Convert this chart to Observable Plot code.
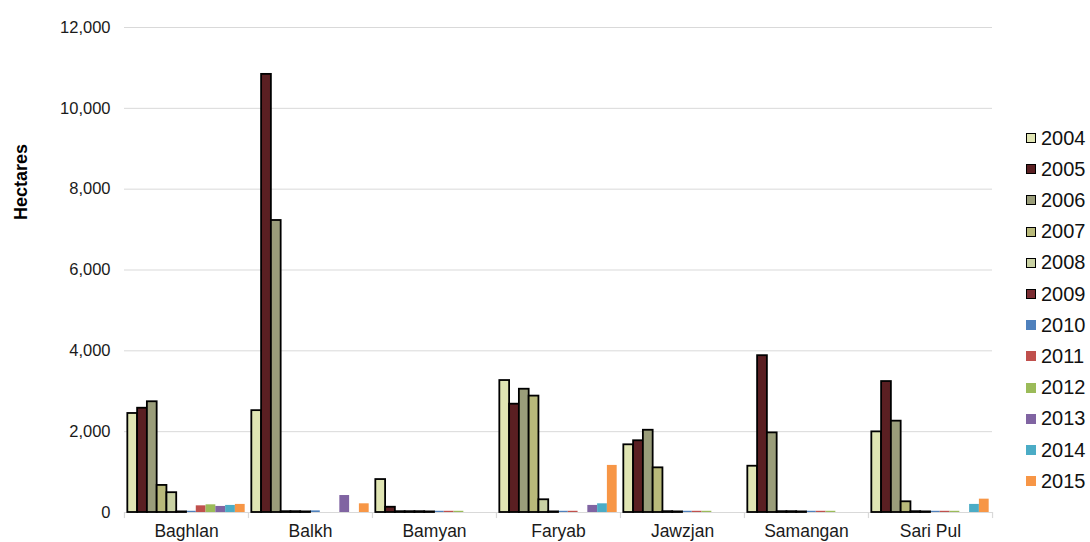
<!DOCTYPE html>
<html>
<head>
<meta charset="utf-8">
<script src="https://cdn.jsdelivr.net/npm/d3@7"></script>
<script src="https://cdn.jsdelivr.net/npm/@observablehq/plot@0.6"></script>
<style>
  html, body { margin: 0; padding: 0; background: #fff; }
  #wrap { position: relative; width: 1090px; height: 542px; font-family: "Liberation Sans", Arial, sans-serif; }
  #ylabel { position: absolute; left: 21px; top: 182px; transform: translate(-50%, -50%) rotate(-90deg); font-weight: bold; font-size: 18px; color: #000; white-space: nowrap; }
  #legend { position: absolute; left: 1026px; top: 0; }
  .item { position: absolute; left: 0; display: flex; align-items: center; white-space: nowrap; font-size: 20px; color: #111; }
  .sw { width: 10px; height: 10px; box-sizing: border-box; margin-right: 5px; }
</style>
</head>
<body>
<div id="wrap">
  <div id="chart"></div>
  <div id="ylabel">Hectares</div>
  <div id="legend"></div>
</div>
<script>
const regions = ["Baghlan", "Balkh", "Bamyan", "Faryab", "Jawzjan", "Samangan", "Sari Pul"];
const years = ["2004", "2005", "2006", "2007", "2008", "2009", "2010", "2011", "2012", "2013", "2014", "2015"];
const outlinedYears = ["2004", "2005", "2006", "2007", "2008", "2009"];
const colors = ["#e0e5b3", "#5a1f22", "#9a9d7a", "#b8b97a", "#c9d1a3", "#7b2d33",
                "#4f81bd", "#c0504d", "#9bbb59", "#8064a2", "#4bacc6", "#f79646"];

// values per year, in region order
const v2004 = [2450, 2520, 815, 3265, 1675, 1145, 1995];
const v2005 = [2580, 10840, 130, 2680, 1775, 3880, 3240];
const v2006 = [2740, 7225, 20, 3050, 2035, 1970, 2260];
const v2007 = [670, 20, 20, 2880, 1105, 20, 265];
const v2008 = [490, 20, 20, 315, 20, 20, 20];
const v2009 = [15, 15, 15, 15, 15, 15, 15];
const v2010 = [30, 40, 30, 30, 30, 30, 30];
const v2011 = [165, 0, 30, 30, 30, 30, 30];
const v2012 = [190, 0, 30, 0, 30, 30, 30];
const v2013 = [150, 420, 0, 175, 0, 0, 0];
const v2014 = [175, 0, 0, 215, 0, 0, 200];
const v2015 = [200, 215, 0, 1165, 0, 0, 330];
const yTicks = [0, 2000, 4000, 6000, 8000, 10000, 12000];

const series = [v2004, v2005, v2006, v2007, v2008, v2009, v2010, v2011, v2012, v2013, v2014, v2015];
const rows = [];
years.forEach((yr, i) => regions.forEach((r, j) => rows.push({region: r, year: yr, value: series[i][j]})));
const outlined = rows.filter(d => outlinedYears.includes(d.year));
const plain = rows.filter(d => !outlinedYears.includes(d.year));

// band geometry (for group-boundary ticks on the category axis)
const padOuter = 0.34;
const facetW = (1090 - 122 - 97) / regions.length;
const step = facetW / (years.length + 2 * padOuter);
const edgeOffset = padOuter * step + step / 2;

const chart = Plot.plot({
  width: 1090,
  height: 542,
  marginLeft: 122,
  marginRight: 97,
  marginTop: 27,
  marginBottom: 30,
  style: {fontFamily: "Liberation Sans, Arial, sans-serif", color: "#1a1a1a", background: "#fff"},
  fx: {domain: regions, padding: 0, label: null},
  x: {domain: years, paddingInner: 0, paddingOuter: padOuter, round: false, axis: null},
  y: {domain: [0, 12000], label: null},
  color: {domain: years, range: colors},
  marks: [
    Plot.gridY(yTicks.filter(t => t > 0), {stroke: "#d9d9d9", strokeOpacity: 1}),
    Plot.axisY(yTicks, {tickSize: 0, tickPadding: 14, fontSize: 16.5, tickFormat: d3.format(","), label: null}),
    Plot.axisFx({anchor: "bottom", tickSize: 0, tickPadding: 12, fontSize: 17.5, label: null}),
    Plot.ruleY([0], {stroke: "#d9d9d9", strokeWidth: 1.2}),
    Plot.ruleX(regions, {fx: d => d, x: () => years[0], y1: 0, y2: -150, dx: -edgeOffset, stroke: "#d9d9d9", strokeWidth: 1.2}),
    Plot.ruleX(regions.slice(-1), {fx: d => d, x: () => years[years.length - 1], y1: 0, y2: -150, dx: edgeOffset, stroke: "#d9d9d9", strokeWidth: 1.2}),
    Plot.barY(plain, {fx: "region", x: "year", y: "value", fill: "year"}),
    Plot.barY(outlined, {fx: "region", x: "year", y: "value", fill: "year", stroke: "#000", strokeWidth: 1.8})
  ]
});
document.getElementById("chart").appendChild(chart);

const legend = document.getElementById("legend");
years.forEach((yr, i) => {
  const item = document.createElement("div");
  item.className = "item";
  item.style.top = (138 + i * 31.2 - 11) + "px";
  item.style.height = "22px";
  const sw = document.createElement("span");
  sw.className = "sw";
  sw.style.background = colors[i];
  if (outlinedYears.includes(yr)) sw.style.border = "1.5px solid #000";
  const tx = document.createElement("span");
  tx.textContent = yr;
  item.appendChild(sw);
  item.appendChild(tx);
  legend.appendChild(item);
});
</script>
</body>
</html>
